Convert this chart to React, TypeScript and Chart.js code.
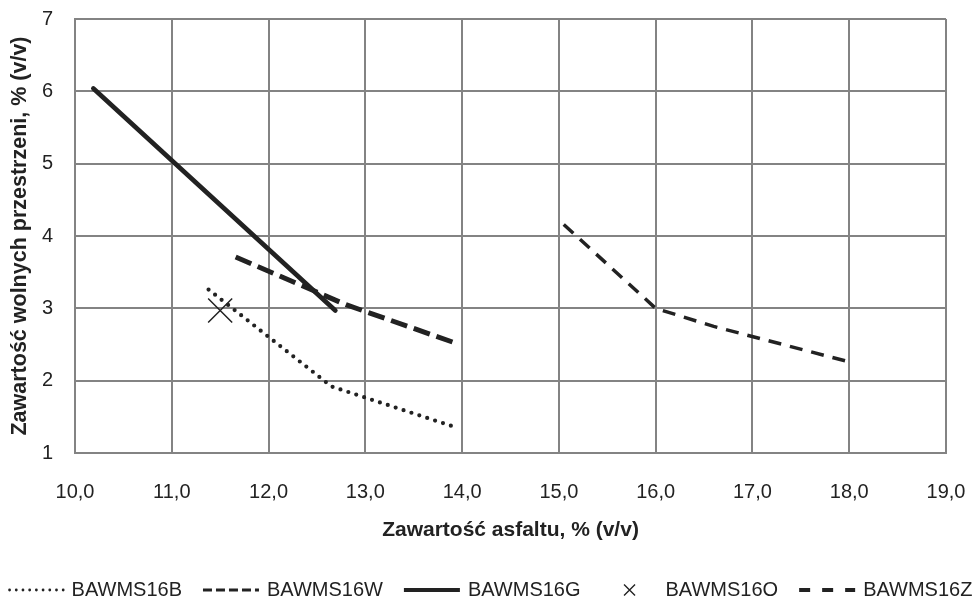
import React, { useEffect, useRef } from 'react';
import { Chart, registerables } from 'chart.js';

Chart.register(...registerables);

const FONT = 'Liberation Sans, Arial, Helvetica, sans-serif';
const INK = '#222222';
const GRID = '#838383';

const xTitle = 'Zawartość asfaltu, % (v/v)';
const yTitle = 'Zawartość wolnych przestrzeni, % (v/v)';
const xMin = 10;
const xMax = 19;
const yMin = 1;
const yMax = 7;

const seriesNames = ['BAWMS16B', 'BAWMS16W', 'BAWMS16G', 'BAWMS16O', 'BAWMS16Z'];

const bX = [11.38, 12.65, 13.9];
const bY = [3.26, 1.92, 1.37];

const wX = [15.05, 16.0, 16.6, 18.0];
const wY = [4.16, 3.0, 2.75, 2.26];

const gX = [10.19, 12.69];
const gY = [6.04, 2.97];

const oX = [11.5];
const oY = [2.97];

const zX = [11.66, 12.8, 13.91];
const zY = [3.71, 3.05, 2.53];

const pts = (xs: number[], ys: number[]) => xs.map((x, i) => ({ x, y: ys[i] }));

const legendPlugin = {
  id: 'customLegend',
  afterDraw(chart: any) {
    const ctx = chart.ctx as CanvasRenderingContext2D;
    const sampleW = 56;
    const gap = 8;
    const itemGap = 21;
    const y = 590;
    ctx.save();
    ctx.font = `20px ${FONT}`;
    const widths = seriesNames.map((n) => ctx.measureText(n).width);
    const total = widths.reduce((a, w) => a + sampleW + gap + w, 0) + itemGap * (seriesNames.length - 1);
    let x = (chart.width - total) / 2;
    const styles = [
      { dash: [0, 6.7], width: 2.8, cap: 'round' },
      { dash: [9, 4], width: 3.2, cap: 'butt' },
      { dash: [], width: 4, cap: 'butt' },
      null,
      { dash: [11, 12], width: 4, cap: 'butt' },
    ];
    seriesNames.forEach((name, i) => {
      const st = styles[i];
      ctx.strokeStyle = INK;
      if (st) {
        ctx.beginPath();
        ctx.lineWidth = st.width;
        ctx.setLineDash(st.dash);
        ctx.lineCap = st.cap as CanvasLineCap;
        ctx.moveTo(x + (st.cap === 'round' ? 2 : 0), y);
        ctx.lineTo(x + sampleW, y);
        ctx.stroke();
      } else {
        const cx = x + sampleW / 2;
        const r = 5.5;
        ctx.setLineDash([]);
        ctx.lineWidth = 1.4;
        ctx.lineCap = 'butt';
        ctx.beginPath();
        ctx.moveTo(cx - r, y - r);
        ctx.lineTo(cx + r, y + r);
        ctx.moveTo(cx + r, y - r);
        ctx.lineTo(cx - r, y + r);
        ctx.stroke();
      }
      ctx.setLineDash([]);
      ctx.fillStyle = INK;
      ctx.textBaseline = 'middle';
      ctx.textAlign = 'left';
      ctx.fillText(name, x + sampleW + gap, y);
      x += sampleW + gap + widths[i] + itemGap;
    });
    ctx.restore();
  },
};

export default function App() {
  const ref = useRef<HTMLCanvasElement | null>(null);

  useEffect(() => {
    document.body.style.margin = '0';
    if (!ref.current) return;
    Chart.defaults.font.family = FONT;
    const chart = new Chart(ref.current, {
      type: 'scatter',
      data: {
        datasets: [
          {
            label: seriesNames[0],
            data: pts(bX, bY),
            showLine: true,
            borderColor: INK,
            borderWidth: 4.2,
            borderDash: [0, 8.3],
            borderCapStyle: 'round',
            pointRadius: 0,
            tension: 0,
          },
          {
            label: seriesNames[1],
            data: pts(wX, wY),
            showLine: true,
            borderColor: INK,
            borderWidth: 3.5,
            borderDash: [13, 9],
            borderCapStyle: 'butt',
            pointRadius: 0,
            tension: 0,
          },
          {
            label: seriesNames[2],
            data: pts(gX, gY),
            showLine: true,
            borderColor: INK,
            borderWidth: 4.7,
            borderCapStyle: 'round',
            pointRadius: 0,
            tension: 0,
          },
          {
            label: seriesNames[3],
            data: pts(oX, oY),
            showLine: false,
            pointStyle: 'crossRot',
            pointRadius: 17,
            pointBorderWidth: 1.5,
            pointBorderColor: INK,
            pointBackgroundColor: INK,
          },
          {
            label: seriesNames[4],
            data: pts(zX, zY),
            showLine: true,
            borderColor: INK,
            borderWidth: 5,
            borderDash: [17, 7],
            borderCapStyle: 'butt',
            pointRadius: 0,
            tension: 0,
          },
        ] as any,
      },
      options: {
        animation: false,
        responsive: true,
        maintainAspectRatio: false,
        events: [],
        layout: { padding: { top: 19, right: 34, left: 0, bottom: 0 } },
        plugins: {
          legend: { display: false },
          tooltip: { enabled: false },
        },
        scales: {
          x: {
            type: 'linear',
            min: xMin,
            max: xMax,
            afterFit: (s: any) => {
              s.height = 147;
              s.paddingLeft = 0;
              s.paddingRight = 0;
            },
            ticks: {
              stepSize: 1,
              color: INK,
              font: { size: 20, family: FONT },
              padding: 27,
              callback: (v: any) => Number(v).toFixed(1).replace('.', ','),
            },
            grid: { color: GRID, lineWidth: 2, drawTicks: false },
            border: { color: GRID, width: 2 },
            title: {
              display: true,
              text: xTitle,
              color: INK,
              font: { size: 21, weight: 'bold', family: FONT },
              padding: { top: 0, bottom: 57 },
            },
          },
          y: {
            type: 'linear',
            min: yMin,
            max: yMax,
            afterFit: (s: any) => {
              s.width = 75;
              s.paddingTop = 0;
              s.paddingBottom = 0;
            },
            ticks: {
              stepSize: 1,
              color: INK,
              font: { size: 20, family: FONT },
              padding: 22,
            },
            grid: { color: GRID, lineWidth: 2, drawTicks: false },
            border: { color: GRID, width: 2 },
            title: {
              display: true,
              text: yTitle,
              color: INK,
              font: { size: 21.5, weight: 'bold', family: FONT },
              padding: { top: 7, bottom: 0 },
            },
          },
        },
      } as any,
      plugins: [legendPlugin],
    });
    return () => chart.destroy();
  }, []);

  return (
    <div style={{ position: 'relative', width: 980, height: 600, background: '#fff' }}>
      <canvas ref={ref} />
    </div>
  );
}
